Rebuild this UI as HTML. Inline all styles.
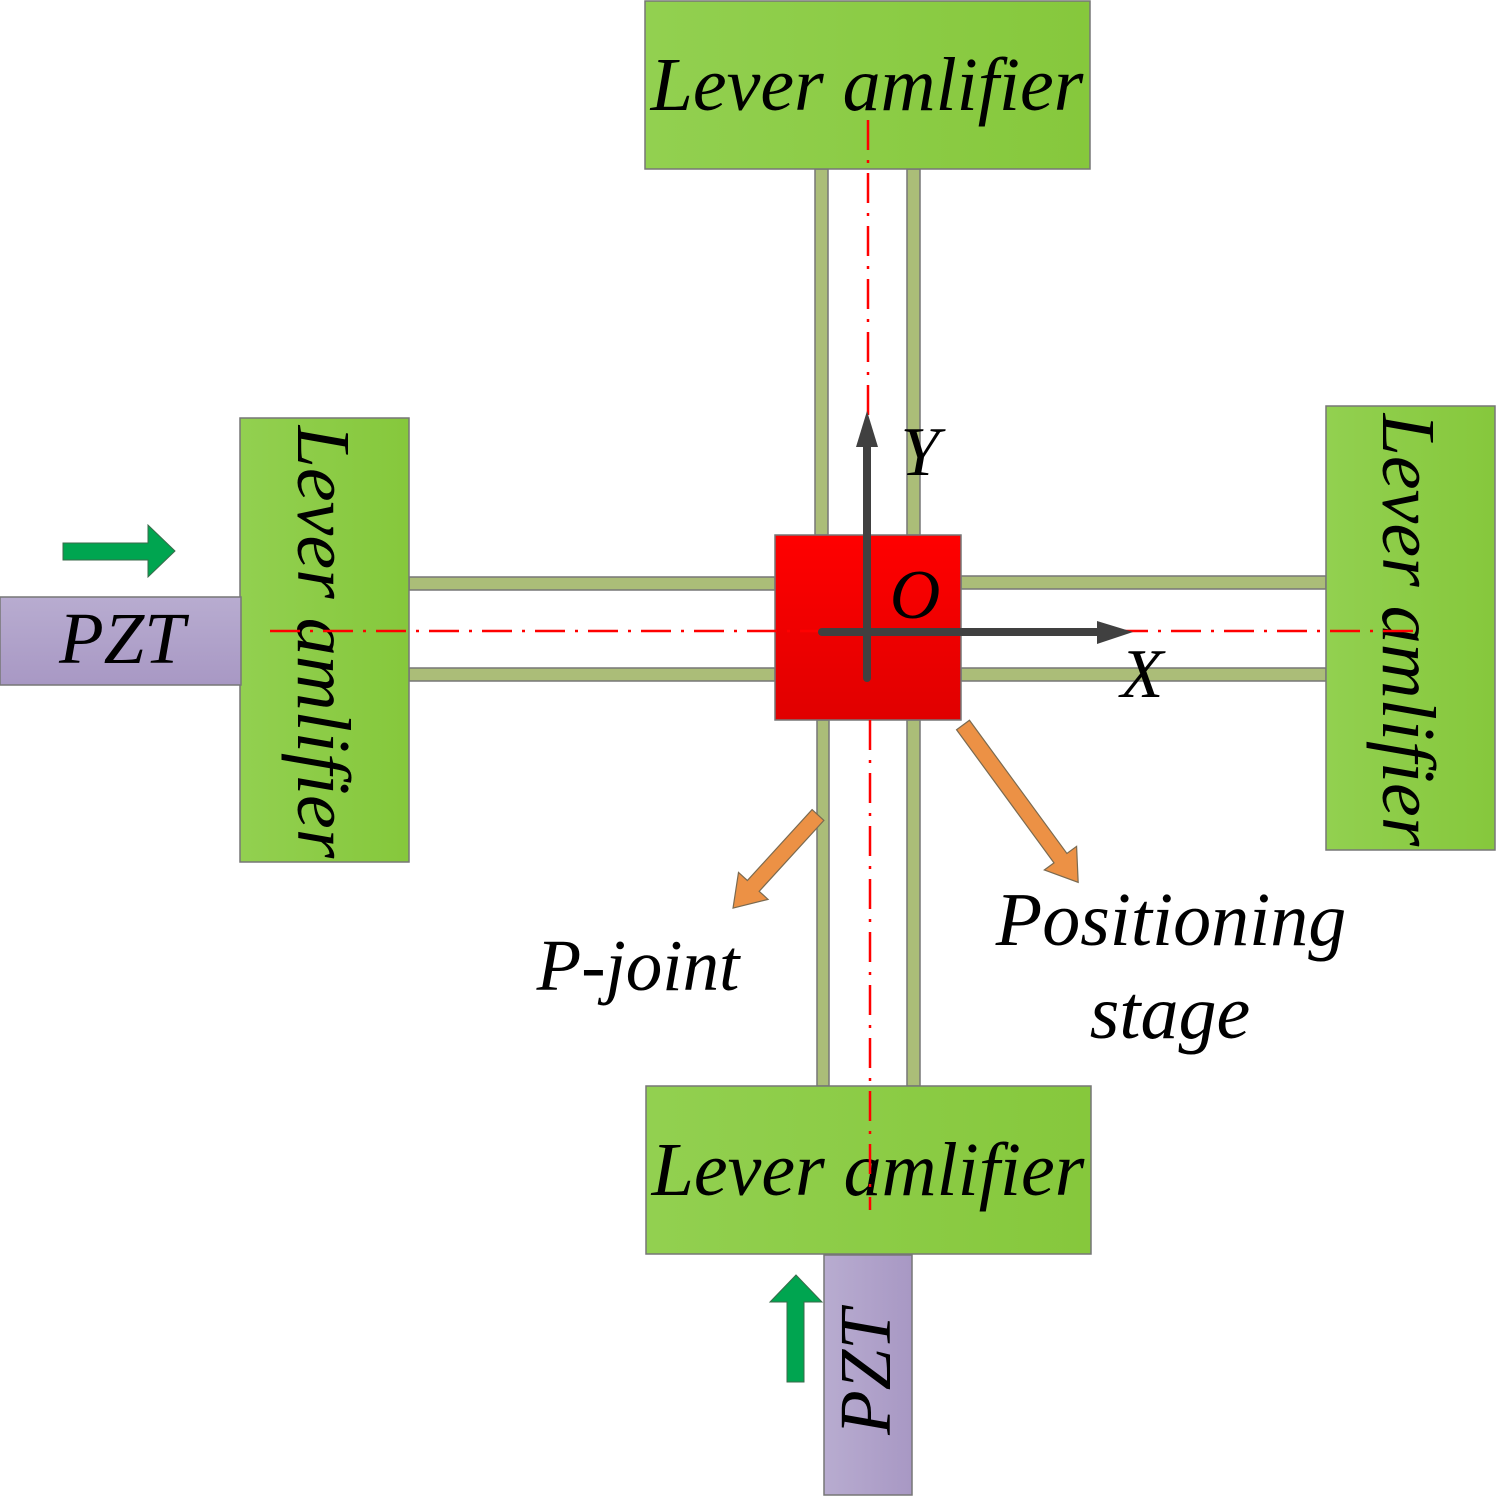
<!DOCTYPE html>
<html><head><meta charset="utf-8"><style>html,body{margin:0;padding:0;background:#fff}svg{display:block}</style></head>
<body>
<svg width="1500" height="1500" viewBox="0 0 1500 1500" xmlns="http://www.w3.org/2000/svg" font-family="Liberation Serif, serif" font-style="italic">
<defs>
<linearGradient id="g" x1="0" y1="0" x2="1" y2="0"><stop offset="0" stop-color="#92d050"/><stop offset="1" stop-color="#86c83c"/></linearGradient>
<linearGradient id="p" x1="0" y1="0" x2="0" y2="1"><stop offset="0" stop-color="#b8acd0"/><stop offset="1" stop-color="#a898c4"/></linearGradient>
<linearGradient id="ph" x1="0" y1="0" x2="1" y2="0"><stop offset="0" stop-color="#b8acd0"/><stop offset="1" stop-color="#a898c4"/></linearGradient>
<linearGradient id="r" x1="0" y1="0" x2="0" y2="1"><stop offset="0" stop-color="#ff0000"/><stop offset="1" stop-color="#e00000"/></linearGradient>
</defs>
<g stroke="#777" stroke-width="1.5" fill="#abbd78">
<rect x="815" y="169" width="13" height="366"/>
<rect x="907" y="169" width="13" height="366"/>
<rect x="817" y="720" width="12" height="366"/>
<rect x="907" y="720" width="13" height="366"/>
<rect x="409" y="577" width="366" height="13"/>
<rect x="409" y="668" width="366" height="13"/>
<rect x="961" y="576" width="365" height="13"/>
<rect x="961" y="668" width="365" height="13"/>
</g>
<g stroke="#777" stroke-width="1.5">
<rect x="645" y="1" width="445" height="168" fill="url(#g)"/>
<rect x="646" y="1086" width="445" height="168" fill="url(#g)"/>
<rect x="240" y="418" width="169" height="444" fill="url(#g)"/>
<rect x="1326" y="406" width="169" height="444" fill="url(#g)"/>
<rect x="0" y="597" width="241" height="88" fill="url(#p)"/>
<rect x="824" y="1255" width="88" height="240" fill="url(#ph)"/>
<rect x="775" y="535" width="186" height="185" fill="url(#r)"/>
</g>
<g font-size="76" fill="#000" text-anchor="middle">
<text x="867" y="110">Lever amlifier</text>
<text x="868" y="1195">Lever amlifier</text>
<text transform="translate(298,642) rotate(90)">Lever amlifier</text>
<text transform="translate(1383,630) rotate(90)">Lever amlifier</text>
<text x="122" y="663" font-size="73">PZT</text>
<text transform="translate(890,1372) rotate(-90)" font-size="73">PZT</text>
<text x="638" y="990" font-size="73">P-joint</text>
<text x="1171" y="945">Positioning</text>
<text x="1170" y="1038">stage</text>
<text x="920" y="475" font-size="70">Y</text>
<text x="915" y="618" font-size="70">O</text>
<text x="1142" y="697" font-size="70">X</text>
</g>
<g stroke="#ff0000" stroke-width="2.5" stroke-dasharray="30,10,3,10" fill="none">
<line x1="270" y1="631" x2="1420" y2="631"/>
<line x1="868" y1="120" x2="868" y2="535"/>
<line x1="870" y1="720" x2="870" y2="1210"/>
</g>
<g fill="#404040" stroke="#404040">
<line x1="867" y1="678" x2="867" y2="445" stroke-width="8" stroke-linecap="round"/>
<polygon points="856,447 878,447 867,411" stroke="none"/>
<line x1="822" y1="632" x2="1100" y2="632" stroke-width="8" stroke-linecap="round"/>
<polygon points="1097,621 1097,644 1133,632" stroke="none"/>
</g>
<g fill="#ec9145" stroke="#7a6a50" stroke-width="1.2">
<polygon transform="translate(963,725) rotate(53.8)" points="0,-8 165,-8 165,-20 195,0 165,20 165,8 0,8"/>
<polygon transform="translate(818,815) rotate(132.4)" points="0,-8 96,-8 96,-20 126,0 96,20 96,8 0,8"/>
</g>
<g fill="#00a550" stroke="#3a6a4a" stroke-width="1">
<polygon points="63,543 148,543 148,525 175,551 148,577 148,560 63,560"/>
<polygon points="787,1382 804,1382 804,1302 822,1302 796,1275 770,1302 787,1302"/>
</g>
</svg>
</body></html>
